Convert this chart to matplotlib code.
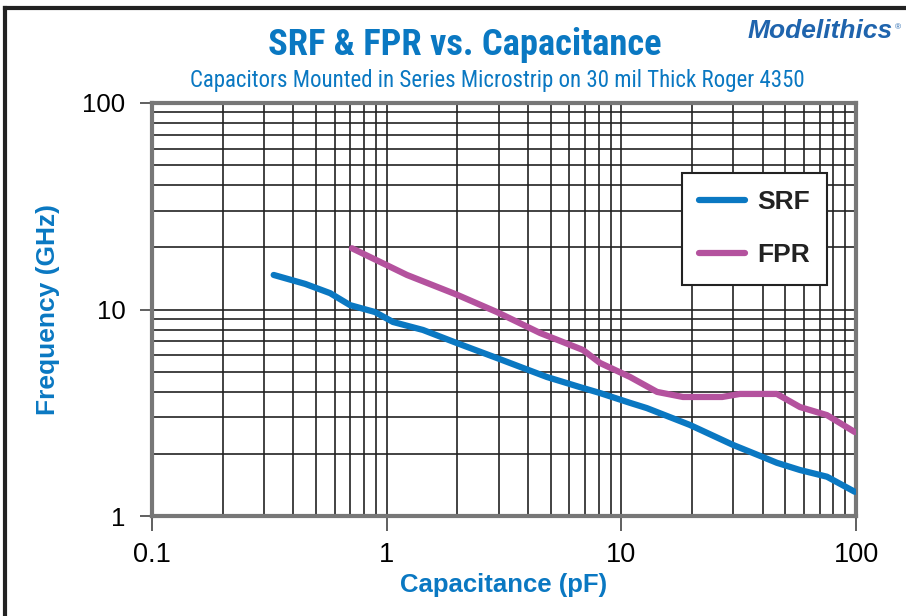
import numpy as np
import matplotlib.pyplot as plt
from matplotlib.lines import Line2D
from matplotlib.ticker import FixedLocator, NullFormatter

# SRF data (capacitance pF, frequency GHz)
srf_cap = [0.33, 0.45, 0.574, 0.698, 0.892, 1.064, 1.428, 1.99, 2.95, 4.82, 6.66, 8.11,
           10.9, 12.85, 19.6, 29.9, 40.1, 46.0, 57.7, 75.2, 98.8]
srf_freq = [14.7, 13.3, 12.0, 10.5, 9.72, 8.70, 7.96, 6.88, 5.82, 4.71, 4.21, 3.94,
            3.53, 3.33, 2.76, 2.21, 1.93, 1.81, 1.67, 1.55, 1.31]

# FPR data
fpr_cap = [0.711, 1.22, 1.99, 2.95, 4.5, 6.86, 8.11, 10.9, 14.2, 18.3, 26.9, 32.0,
           46.0, 57.7, 75.2, 98.8]
fpr_freq = [19.8, 14.7, 11.8, 9.72, 7.70, 6.37, 5.51, 4.71, 3.99, 3.77, 3.77, 3.90,
            3.90, 3.37, 3.08, 2.55]

x_ticks = [0.1, 1, 10, 100]
x_labels = ['0.1', '1', '10', '100']
y_ticks = [1, 10, 100]
y_labels = ['1', '10', '100']

blue = '#0a78c2'
magenta = '#b4529e'
cond = ['Roboto Condensed', 'Liberation Sans', 'DejaVu Sans']
sans = ['Liberation Sans', 'DejaVu Sans']

fig = plt.figure(figsize=(9.06, 6.16), dpi=100)
ax = fig.add_axes([152 / 906, 1 - 516 / 616, 704 / 906, 413 / 616])

ax.set_xscale('log')
ax.set_yscale('log')
ax.set_xlim(0.1, 100)
ax.set_ylim(1, 100)

ax.plot(srf_cap, srf_freq, color=blue, lw=4.5, solid_capstyle='round', label='SRF', zorder=3)
ax.plot(fpr_cap, fpr_freq, color=magenta, lw=4.5, solid_capstyle='round', label='FPR', zorder=3)

# grid
minor_x = [m * d for d in (0.1, 1, 10) for m in range(2, 10)]
minor_y = [m * d for d in (1, 10) for m in range(2, 10)]
ax.xaxis.set_minor_locator(FixedLocator(minor_x))
ax.yaxis.set_minor_locator(FixedLocator(minor_y))
ax.xaxis.set_minor_formatter(NullFormatter())
ax.yaxis.set_minor_formatter(NullFormatter())
ax.grid(True, which='both', color='#222222', lw=1.2)
ax.tick_params(which='minor', length=0)
ax.tick_params(which='major', width=1.2, direction='out', color='#444444')
ax.tick_params(axis='x', which='major', length=11, pad=8)
ax.tick_params(axis='y', which='major', length=9, pad=10)

ax.set_xticks(x_ticks)
ax.set_xticklabels(x_labels, family=sans, fontsize=19.5)
ax.set_yticks(y_ticks)
ax.set_yticklabels(y_labels, family=sans, fontsize=18.5)

for side in ['top', 'right', 'bottom', 'left']:
    ax.spines[side].set_color('#777777')
    ax.spines[side].set_linewidth(3)

ax.set_xlabel('Capacitance (pF)', color=blue, fontsize=18.5, fontweight='bold',
              family=sans, labelpad=3)
ax.set_ylabel('Frequency (GHz)', color=blue, fontsize=19, fontweight='bold',
              family=sans, labelpad=16)

leg = ax.legend(loc='upper left', bbox_to_anchor=(0.753, 0.83), frameon=True, fancybox=False,
                edgecolor='#222222', handlelength=1.75, handletextpad=0.45,
                labelspacing=1.1, borderpad=0.65, borderaxespad=0.0,
                prop={'family': sans, 'weight': 'bold', 'size': 19})
leg.get_frame().set_linewidth(1.5)
leg.get_frame().set_alpha(1)
leg.set_zorder(5)
for t in leg.get_texts():
    t.set_color('#222222')

fig.text(465 / 906, 1 - 45 / 616, 'SRF & FPR vs. Capacitance', ha='center', va='center',
         color=blue, fontsize=26.3, family=cond, fontweight='bold')
fig.text(497 / 906, 1 - 81 / 616, 'Capacitors Mounted in Series Microstrip on 30 mil Thick Roger 4350',
         ha='center', va='center', color=blue, fontsize=16.5, family=cond)
fig.text(893 / 906, 1 - 31 / 616, 'Modelithics', ha='right', va='center', color='#1f64ad',
         fontsize=19, fontweight='bold', style='italic', family=sans)
fig.text(895 / 906, 1 - 28 / 616, '®', ha='left', va='center', color='#1f64ad',
         fontsize=6, family=sans)

# outer frame
fig.add_artist(Line2D([5 / 906, 905 / 906], [1 - 8 / 616, 1 - 8 / 616], color='#222222', lw=3))
fig.add_artist(Line2D([5 / 906, 5 / 906], [0, 1 - 8 / 616], color='#222222', lw=3))

fig.savefig('out.png', dpi=100)
